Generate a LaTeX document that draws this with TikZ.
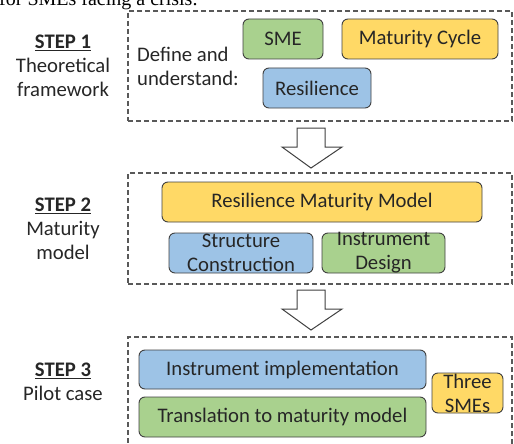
\documentclass[tikz,border=0pt]{standalone}
\usepackage{fontspec}
\setmainfont{Carlito}
\newfontfamily\captionfont{Liberation Serif}
\usetikzlibrary{positioning}
\definecolor{boxgreen}{HTML}{A9D18E}
\definecolor{boxyellow}{HTML}{FFD966}
\definecolor{boxblue}{HTML}{9DC3E6}
\definecolor{boxline}{HTML}{404040}
\definecolor{frameline}{HTML}{595959}
\definecolor{inktext}{HTML}{262626}
% hollow down arrow, #1 = middle of its top edge
\newcommand{\downblock}[1]{%
  \draw[hollow] (#1) ++(-14,0) -- ++(28,0) -- ++(0,19) -- ++(17,0)
    -- ++(-31,21) -- ++(-29,-21) -- ++(15,0) -- cycle;}
\begin{document}
\begin{tikzpicture}[x=1pt, y=-1pt,
  every node/.style = {font=\fontsize{20.7}{24}\selectfont, text=inktext,
    inner sep=0pt, align=center},
  part/.style = {draw=boxline, line width=0.9pt, rounded corners=6pt,
    minimum height=40pt},
  stage/.style = {draw=frameline, dash pattern=on 5pt off 3pt,
    line width=1.2pt},
  hollow/.style = {draw=boxline, fill=white, line width=1pt}]
  \useasboundingbox (0,0) rectangle (514,444);

  \node[anchor=base west, font=\captionfont\fontsize{20}{24}\selectfont,
    text=black] (caption) at (-1,6) {for SMEs facing a crisis.};

  % step 1
  \node[stage, minimum width=384, minimum height=110] (frame1) at (320,66) {};
  \node (step1) at (63,66) {\underline{\textbf{STEP 1}}\\Theoretical\\framework};
  \node[anchor=west, align=left] (define) at (137,66) {Define and\\understand:};
  \node[part, fill=boxgreen, minimum width=80] (sme) at (283,39) {SME};
  \node[part, fill=boxyellow, minimum width=156] (cycle) at (420,39) {Maturity Cycle};
  \node[part, fill=boxblue, minimum width=108] (resilience) at (317,88) {Resilience};

  \coordinate (arrow1) at (311,128);
  \downblock{arrow1}

  % step 2
  \node[stage, minimum width=384, minimum height=111] (frame2) at (320,228.5) {};
  \node (step2) at (63,229) {\underline{\textbf{STEP 2}}\\Maturity\\model};
  \node[part, fill=boxyellow, minimum width=320] (rmm) at (322,202) {Resilience Maturity Model};
  \node[part, fill=boxblue, minimum width=144] (structure) at (241,253) {};
  \node (structure-text) at (structure) {Structure\\Construction};
  \node[part, fill=boxgreen, minimum width=123] (design) at (383.5,253) {};
  \node (design-text) at (design) {Instrument\\Design};

  \coordinate (arrow2) at (311,290);
  \downblock{arrow2}

  % step 3
  \node[stage, minimum width=384, minimum height=123] (frame3) at (320,398.5) {};
  \node (step3) at (63,382) {\underline{\textbf{STEP 3}}\\Pilot case};
  \node[part, fill=boxblue, minimum width=287, minimum height=39] (implement) at (282.5,369.5) {Instrument implementation};
  \node[part, fill=boxgreen, minimum width=287] (translate) at (282.5,417) {Translation to maturity model};
  \node[part, fill=boxyellow, minimum width=71] (smes) at (467.5,393) {};
  \node (smes-text) at (smes) {Three\\SMEs};
\end{tikzpicture}
\end{document}
